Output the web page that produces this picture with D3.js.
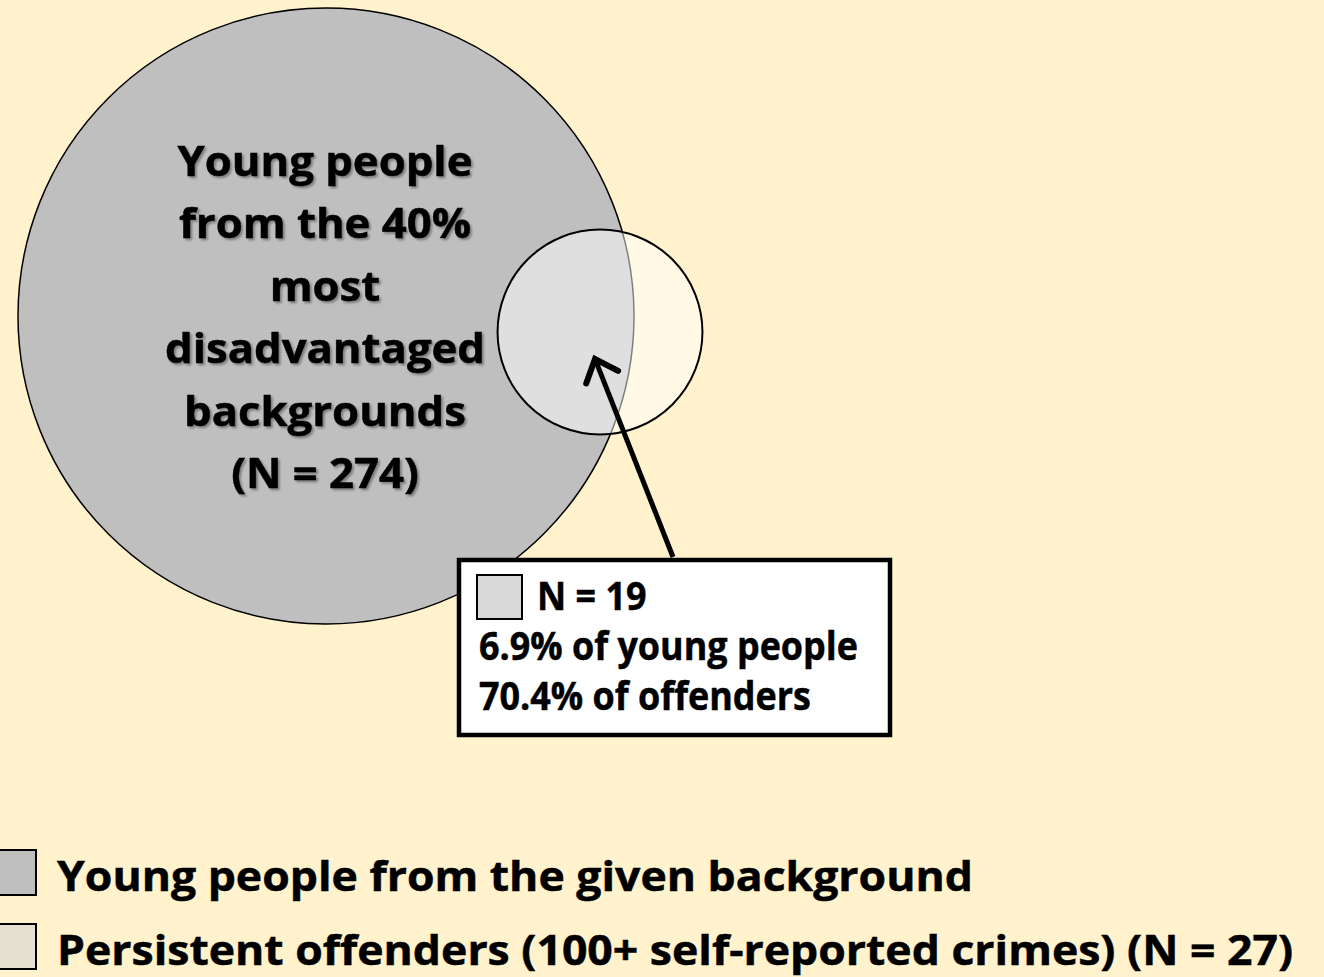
<!DOCTYPE html>
<html>
<head>
<meta charset="utf-8">
<script src="https://cdn.jsdelivr.net/npm/d3@7"></script>
<style>
  html, body { margin: 0; padding: 0; background: #fff2cc; }
  svg { display: block; }
  text { font-family: "Open Sans", "Lato", "DejaVu Sans", sans-serif; font-weight: 700; fill: #000; stroke: #000; stroke-width: 0.5px; }
</style>
</head>
<body>
<svg id="chart" width="1324" height="977"></svg>
<script>
// ---------------- data ----------------
const setNames = ["Young people from the given background", "Persistent offenders (100+ self-reported crimes)"];
const setSizes = [274, 27];
const overlapSize = 19;
const bigLabelLines = ["Young people", "from the 40%", "most", "disadvantaged", "backgrounds"];
const legendLabels = [setNames[0], `${setNames[1]} (N = ${setSizes[1]})`];

// ---------------- layout ----------------
const W = 1324, H = 977;
const svg = d3.select("#chart");
svg.append("rect").attr("width", W).attr("height", H).attr("fill", "#fff2cc");

const defs = svg.append("defs");
const f = defs.append("filter").attr("id", "shadow").attr("x", "-10%").attr("y", "-20%").attr("width", "130%").attr("height", "150%");
f.append("feDropShadow").attr("dx", 2).attr("dy", 2).attr("stdDeviation", 1.3)
  .attr("flood-color", "#000").attr("flood-opacity", 0.35);

// radius scale (size of set -> circle radius)
const rScale = d3.scalePow().exponent(0.475).domain([0, setSizes[0]]).range([0, 308]);
const centers = [[326, 316], [600, 332]];

const circles = setSizes.map((n, i) => ({ n, r: rScale(n), cx: centers[i][0], cy: centers[i][1] }));

// big circle
svg.append("circle")
  .attr("cx", circles[0].cx).attr("cy", circles[0].cy).attr("r", circles[0].r)
  .attr("fill", "#bfbfbf").attr("stroke", "#000").attr("stroke-width", 1.5);

// small circle (semi-transparent)
svg.append("circle")
  .attr("cx", circles[1].cx).attr("cy", circles[1].cy).attr("r", circles[1].r)
  .attr("fill", "#ffffff").attr("fill-opacity", 0.5)
  .attr("stroke", "#000").attr("stroke-width", 2);

// helper: stretch a group of texts so the widest matches target width
function fitBlock(sel, targetWidest) {
  let maxW = 0;
  sel.each(function () { maxW = Math.max(maxW, this.getComputedTextLength()); });
  const k = targetWidest / maxW;
  sel.each(function () {
    const w = this.getComputedTextLength();
    d3.select(this).attr("textLength", w * k).attr("lengthAdjust", "spacingAndGlyphs");
  });
}

// big circle label
const bigLines = bigLabelLines.concat([`(N = ${setSizes[0]})`]);
const bigText = svg.append("g").attr("filter", "url(#shadow)")
  .selectAll("text").data(bigLines).join("text")
  .attr("x", 325)
  .attr("y", (d, i) => 176 + i * 62.4)
  .attr("text-anchor", "middle")
  .attr("font-size", 41)
  .text(d => d);
fitBlock(bigText, 320);

// arrow
const tail = [673, 557], tip = [595, 359];
const ang = Math.atan2(tail[1] - tip[1], tail[0] - tip[0]);
svg.append("line")
  .attr("x1", tail[0]).attr("y1", tail[1])
  .attr("x2", tip[0] + 2 * Math.cos(ang)).attr("y2", tip[1] + 2 * Math.sin(ang))
  .attr("stroke", "#000").attr("stroke-width", 5);
const wing = 26, spread = 0.72;
const p1 = [tip[0] + wing * Math.cos(ang - spread), tip[1] + wing * Math.sin(ang - spread)];
const p2 = [tip[0] + wing * Math.cos(ang + spread), tip[1] + wing * Math.sin(ang + spread)];
svg.append("path")
  .attr("d", `M${p1[0]},${p1[1]}L${tip[0]},${tip[1]}L${p2[0]},${p2[1]}`)
  .attr("fill", "none").attr("stroke", "#000").attr("stroke-width", 6)
  .attr("stroke-linejoin", "miter").attr("stroke-linecap", "round");

// callout box
svg.append("rect").attr("x", 459).attr("y", 560).attr("width", 431).attr("height", 175)
  .attr("fill", "#fff").attr("stroke", "#000").attr("stroke-width", 4.5);
svg.append("rect").attr("x", 477).attr("y", 575).attr("width", 45).attr("height", 44)
  .attr("fill", "#d9d9d9").attr("stroke", "#000").attr("stroke-width", 2);

const pctYoung = d3.format(".1f")(overlapSize / setSizes[0] * 100);
const pctOff = d3.format(".1f")(overlapSize / setSizes[1] * 100);
const calloutLines = [
  { t: `N = ${overlapSize}`, x: 537, y: 610 },
  { t: `${pctYoung}% of young people`, x: 479, y: 660 },
  { t: `${pctOff}% of offenders`, x: 479, y: 710 }
];
const cText = svg.append("g").selectAll("text").data(calloutLines).join("text")
  .attr("x", d => d.x).attr("y", d => d.y)
  .attr("font-size", 39)
  .text(d => d.t);
fitBlock(cText, 379);

// legend
const legColors = ["#bfbfbf", "#e5e0d1"];
const leg = svg.append("g").selectAll("g").data(legendLabels).join("g")
  .attr("transform", (d, i) => `translate(0, ${i * 74})`);
leg.append("rect").attr("x", -2).attr("y", 850).attr("width", 38).attr("height", 45)
  .attr("fill", (d, i) => legColors[i]).attr("stroke", "#000").attr("stroke-width", 2);
const legText = leg.append("text").attr("x", 57).attr("y", 891)
  .attr("font-size", 42)
  .text(d => d);
fitBlock(legText, 1236);
</script>
</body>
</html>
